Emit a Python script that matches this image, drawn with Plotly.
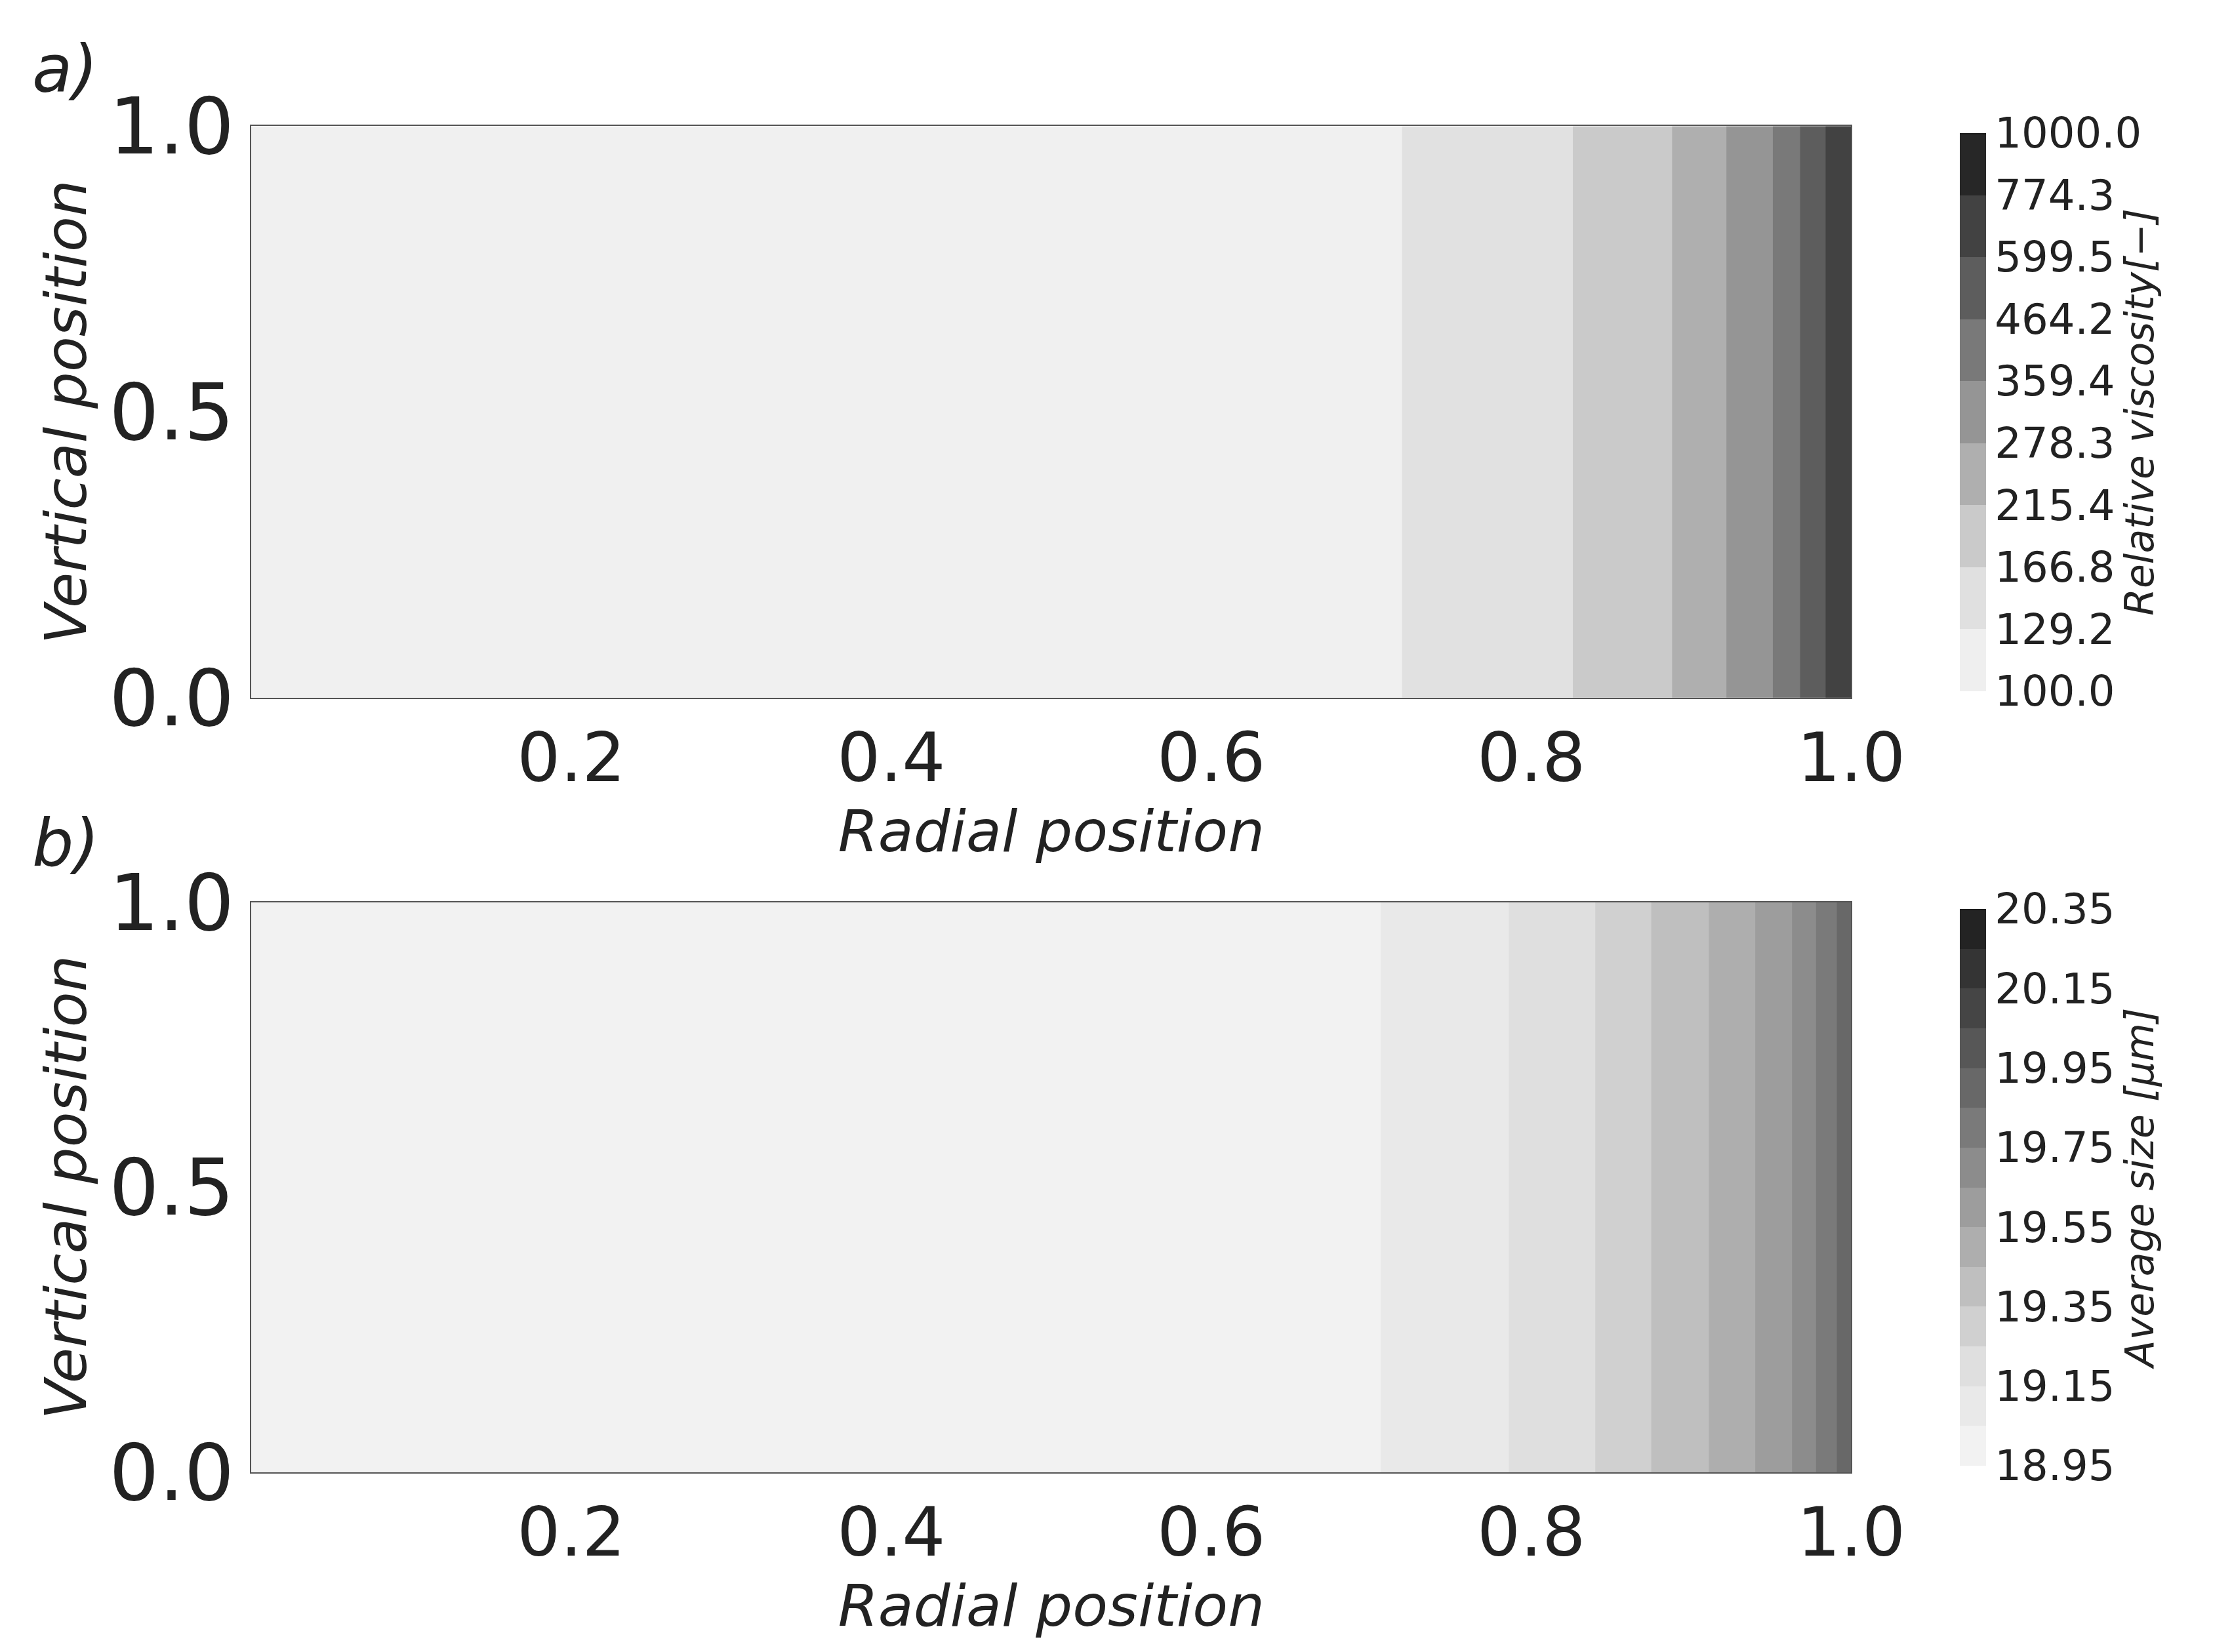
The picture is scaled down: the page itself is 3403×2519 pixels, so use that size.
import numpy as np
import plotly.graph_objects as go

# Panel a: relative viscosity profile along radial position
radial_a = [0.0, 0.3, 0.6, 0.72, 0.826, 0.888, 0.922, 0.951, 0.968, 0.984, 1.0]
visc_a = [110.0, 115.0, 122.0, 129.2, 166.8, 215.4, 278.3, 359.4, 464.2, 599.5, 720.0]
visc_ticks = [100.0, 129.2, 166.8, 215.4, 278.3, 359.4, 464.2, 599.5, 774.3, 1000.0]

# Panel b: average size profile along radial position
radial_b = [0.0, 0.3, 0.6, 0.706, 0.786, 0.84, 0.875, 0.911, 0.94, 0.963, 0.978, 0.991, 1.0]
size_b = [18.98, 19.0, 19.02, 19.05, 19.15, 19.25, 19.35, 19.45, 19.55, 19.65, 19.75, 19.85, 19.92]
size_ticks = [18.95, 19.15, 19.35, 19.55, 19.75, 19.95, 20.15, 20.35]

vertical = [0.0, 0.5, 1.0]

grey = [[0, '#f7f7f7'], [0.2, '#dcdcdc'], [0.5, '#959595'], [0.8, '#4a4a4a'], [1, '#1a1a1a']]
FONT = "DejaVu Sans"
TXT = '#222'

def grid(vals, log=False):
    zrow = np.log10(vals) if log else np.array(vals)
    return [list(zrow) for _ in vertical]

A_DOM = [0.5881, 0.9559]
B_DOM = [0.0895, 0.4564]

fig = go.Figure()
fig.add_trace(go.Contour(
    x=radial_a, y=vertical, z=grid(visc_a, log=True),
    colorscale=grey, zmin=2, zmax=3, autocontour=False,
    contours=dict(start=2, end=3, size=1/9, coloring='fill'),
    line=dict(width=0), xaxis='x', yaxis='y',
    colorbar=dict(x=0.913, xanchor='left', y=A_DOM[0], yanchor='bottom', len=A_DOM[1] - A_DOM[0], lenmode='fraction',
                  thickness=40, outlinewidth=0,
                  tickvals=list(np.log10(visc_ticks)), ticktext=[f"{v:.1f}" for v in visc_ticks],
                  tickfont=dict(size=64, family=FONT, color=TXT),
                  title=dict(text='<i>Relative viscosity[−]</i>', side='right', font=dict(size=60, family=FONT, color=TXT)))))
fig.add_trace(go.Contour(
    x=radial_b, y=vertical, z=grid(size_b),
    colorscale=grey, zmin=18.95, zmax=20.35, autocontour=False,
    contours=dict(start=18.95, end=20.35, size=0.1, coloring='fill'),
    line=dict(width=0), xaxis='x2', yaxis='y2',
    colorbar=dict(x=0.913, xanchor='left', y=B_DOM[0], yanchor='bottom', len=B_DOM[1] - B_DOM[0], lenmode='fraction',
                  thickness=40, outlinewidth=0,
                  tickvals=size_ticks, ticktext=[f"{v:.2f}" for v in size_ticks],
                  tickfont=dict(size=64, family=FONT, color=TXT),
                  title=dict(text='<i>Average size [μm]</i>', side='right', font=dict(size=60, family=FONT, color=TXT)))))

xax = dict(domain=[0.1153, 0.8652], range=[0, 1], tickvals=[0.2, 0.4, 0.6, 0.8, 1.0], ticktext=['0.2', '0.4', '0.6', '0.8', '1.0'],
           tickfont=dict(size=104, family=FONT, color=TXT), showgrid=False, zeroline=False,
           showline=True, linecolor='#555', linewidth=2, mirror=True, ticks='',
           title=dict(text='<i>Radial position</i>', font=dict(size=88, family=FONT, color=TXT), standoff=10))
yax = dict(range=[0, 1], tickvals=[0, 0.5, 1.0], ticktext=['0.0', '0.5', '1.0'],
           tickfont=dict(size=120, family=FONT, color=TXT), showgrid=False, zeroline=False,
           showline=True, linecolor='#555', linewidth=2, mirror=True, ticks='',
           title=dict(text='<i>Vertical position</i>', font=dict(size=88, family=FONT, color=TXT), standoff=5))

fig.update_layout(
    width=3403, height=2519, margin=dict(l=0, r=150, t=80, b=0),
    paper_bgcolor='white', plot_bgcolor='white', showlegend=False,
    xaxis=dict(xax, anchor='y'), yaxis=dict(yax, domain=A_DOM, anchor='x'),
    xaxis2=dict(xax, anchor='y2'), yaxis2=dict(yax, domain=B_DOM, anchor='x2'),
    annotations=[
        dict(text='<i>a)</i>', x=0.012, y=1.018, xref='paper', yref='paper', xanchor='left', yanchor='top',
             showarrow=False, font=dict(size=100, family=FONT, color=TXT)),
        dict(text='<i>b)</i>', x=0.012, y=0.52, xref='paper', yref='paper', xanchor='left', yanchor='top',
             showarrow=False, font=dict(size=100, family=FONT, color=TXT)),
    ])
fig.write_html("out.html")
